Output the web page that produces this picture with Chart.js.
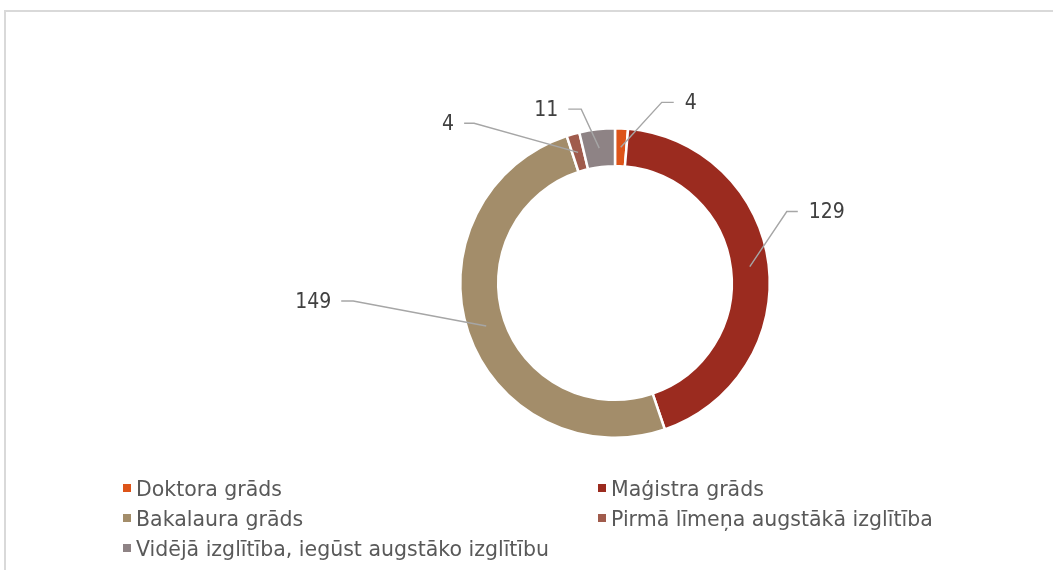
<!DOCTYPE html>
<html>
<head>
<meta charset="utf-8">
<script src="https://cdn.jsdelivr.net/npm/chart.js@4.4.1/dist/chart.umd.min.js"></script>
<style>
  html, body { margin: 0; padding: 0; background: #fff; overflow: hidden; }
  #wrap { position: relative; width: 1053px; height: 570px; overflow: hidden; }
  #hline { position: absolute; left: 4px; top: 10px; width: 1049px; height: 1.5px; background: #D9D9D9; }
  #vline { position: absolute; left: 4px; top: 10px; width: 1.5px; height: 560px; background: #D9D9D9; }
  #c { position: absolute; left: 0; top: 0; }
  #legend { position: absolute; left: 0; top: 0; width: 1053px; height: 570px; pointer-events: none;
            font-family: "DejaVu Sans", Verdana, sans-serif; font-size: 20.5px; color: #595959; }
  .li { position: absolute; white-space: nowrap; line-height: 30px; height: 30px; }
  .sw { display: inline-block; width: 8px; height: 8px; margin-right: 5px; vertical-align: middle; position: relative; top: -2px; }
</style>
</head>
<body>
<div id="wrap">
  <div id="hline"></div>
  <div id="vline"></div>
  <canvas id="c" width="1053" height="570"></canvas>
  <div id="legend"></div>
</div>
<script>
const categories = ["Doktora grāds", "Maģistra grāds", "Bakalaura grāds", "Pirmā līmeņa augstākā izglītība", "Vidējā izglītība, iegūst augstāko izglītību"];
const values = [4, 129, 149, 4, 11];
const colors = ["#DD5419", "#9B2B1F", "#A38D6A", "#A05B4C", "#8E8385"];

// leader-line elbows (offset from slice anchor) and horizontal run
const leaderOpts = [
  { ex: 41, ey: -45, run: 12 },
  { ex: 37, ey: -55, run: 11 },
  { ex: -133, ey: -25, run: -12 },
  { ex: -104, ey: -29, run: -10 },
  { ex: -18, ey: -39, run: -13 }
];

const leaderPlugin = {
  id: 'leaderLabels',
  afterDatasetsDraw(chart) {
    const ctx = chart.ctx;
    const meta = chart.getDatasetMeta(0);
    const ds = chart.data.datasets[0];
    ctx.save();
    meta.data.forEach((arc, i) => {
      const p = arc.getProps(['x','y','startAngle','endAngle','innerRadius','outerRadius'], true);
      const mid = (p.startAngle + p.endAngle) / 2;
      const r = (p.innerRadius + p.outerRadius) / 2;
      const ax = p.x + Math.cos(mid) * r;
      const ay = p.y + Math.sin(mid) * r;
      const o = leaderOpts[i];
      const bx = ax + o.ex, by = ay + o.ey;
      const cx = bx + o.run;
      ctx.strokeStyle = '#A6A6A6';
      ctx.lineWidth = 1.4;
      ctx.beginPath();
      ctx.moveTo(ax, ay);
      ctx.lineTo(bx, by);
      ctx.lineTo(cx, by);
      ctx.stroke();
      ctx.fillStyle = '#404040';
      ctx.font = '21px "DejaVu Sans Condensed", "DejaVu Sans", sans-serif';
      ctx.textBaseline = 'middle';
      if (o.run > 0) { ctx.textAlign = 'left'; ctx.fillText(String(ds.data[i]), cx + 11, by + 1); }
      else { ctx.textAlign = 'right'; ctx.fillText(String(ds.data[i]), cx - 10, by + 1); }
    });
    ctx.restore();
  }
};

const chart = new Chart(document.getElementById('c'), {
  type: 'doughnut',
  data: {
    labels: categories,
    datasets: [{
      data: values,
      backgroundColor: colors,
      borderColor: '#FFFFFF',
      borderWidth: 2.5,
      hoverOffset: 0
    }]
  },
  options: {
    responsive: false,
    animation: false,
    cutout: '75.5%',
    layout: { padding: { left: 459, right: 282, top: 127, bottom: 131 } },
    plugins: { legend: { display: false }, tooltip: { enabled: false } }
  },
  plugins: [leaderPlugin]
});

// HTML legend built from the data arrays (two columns)
const legendEl = document.getElementById('legend');
const colX = [123, 598];
const rowY = [474, 504, 534];
categories.forEach((name, i) => {
  const d = document.createElement('div');
  d.className = 'li';
  d.style.left = colX[i % 2] + 'px';
  d.style.top = rowY[Math.floor(i / 2)] + 'px';
  const sw = document.createElement('span');
  sw.className = 'sw';
  sw.style.background = colors[i];
  d.appendChild(sw);
  d.appendChild(document.createTextNode(name));
  legendEl.appendChild(d);
});
</script>
</body>
</html>
